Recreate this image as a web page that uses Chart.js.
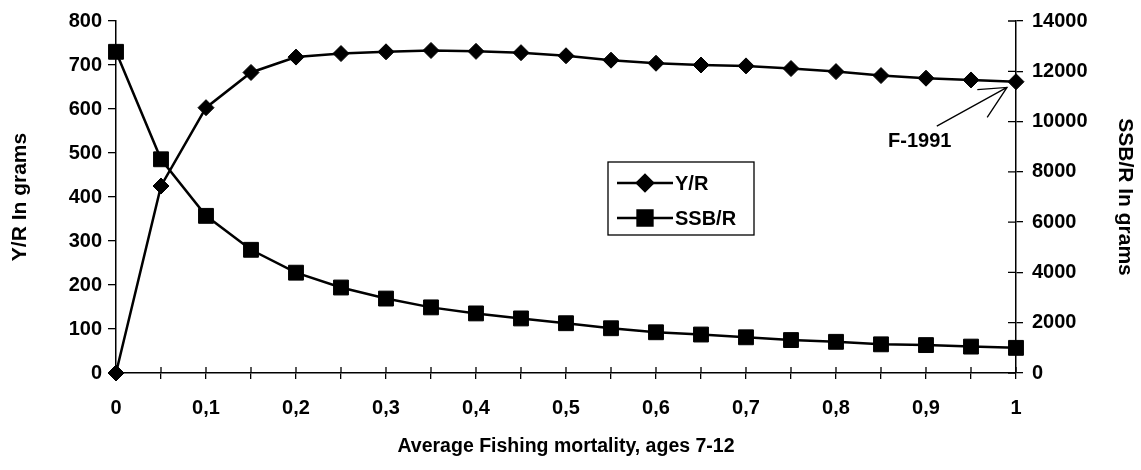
<!DOCTYPE html>
<html>
<head>
<meta charset="utf-8">
<script src="https://cdn.jsdelivr.net/npm/chart.js@4/dist/chart.umd.min.js"></script>
<style>
  html, body { margin: 0; padding: 0; background: #fff; }
  #wrap { width: 1141px; height: 470px; }
</style>
</head>
<body>
<div id="wrap"><canvas id="mainChart" width="1141" height="470"></canvas></div>
<script>
// fishing mortality F (ages 7-12)
const fValues = [0, 0.05, 0.1, 0.15, 0.2, 0.25, 0.3, 0.35, 0.4, 0.45, 0.5,
                 0.55, 0.6, 0.65, 0.7, 0.75, 0.8, 0.85, 0.9, 0.95, 1]
// yield per recruit, grams (left axis)
const yieldPerRecruit = [0, 425, 603, 683, 718, 726, 730, 733, 731, 728, 721,
                         711, 704, 700, 698, 692, 685, 676, 670, 666, 662]
// spawning stock biomass per recruit, grams (right axis)
const ssbPerRecruit = [12775, 8500, 6250, 4900, 3990, 3400, 2960, 2610, 2370, 2170, 1980,
                       1780, 1620, 1530, 1420, 1310, 1240, 1140, 1110, 1050, 1000]
const seriesNames = ["Y/R", "SSB/R"]
// annotation for F-1991, in data units (x, left axis)
const noteText = "F-1991"
const noteAt = [0.893, 527]
const noteArrow = [[0.912, 561], [0.99, 649]]
const noteHead = [[0.968, 581], [0.957, 644]]

const FONT = "'Liberation Sans', Arial, sans-serif"

const pts = (ys) => fValues.map((f, i) => ({ x: f, y: ys[i] }))

// ticks that cross the axis line (x axis and right axis)
const crossTicks = {
    id: 'crossTicks',
    afterDraw(chart) {
        const ctx = chart.ctx
        const xs = chart.scales.x
        const yr = chart.scales.y2
        ctx.save()
        ctx.strokeStyle = '#000'
        ctx.lineWidth = 1.3
        ctx.beginPath()
        xs.ticks.forEach(t => {
            const px = xs.getPixelForValue(t.value)
            ctx.moveTo(px, xs.top)
            ctx.lineTo(px, xs.top - 6)
        })
        yr.ticks.forEach(t => {
            const py = yr.getPixelForValue(t.value)
            ctx.moveTo(yr.left, py)
            ctx.lineTo(yr.left - 8, py)
        })
        ctx.stroke()
        ctx.restore()
    }
}

// legend box inside the plot and the F-1991 note
const legendAndNote = {
    id: 'legendAndNote',
    afterDraw(chart) {
        const ctx = chart.ctx
        const xs = chart.scales.x
        const yl = chart.scales.y
        ctx.save()
        // legend
        ctx.fillStyle = '#fff'
        ctx.fillRect(608, 162, 146, 73)
        ctx.strokeStyle = '#000'
        ctx.lineWidth = 1.3
        ctx.strokeRect(608, 162, 146, 73)
        const rows = [183, 218]
        chart.data.datasets.forEach((ds, i) => {
            const y = rows[i]
            ctx.strokeStyle = '#000'
            ctx.lineWidth = 2.5
            ctx.beginPath()
            ctx.moveTo(617, y)
            ctx.lineTo(673, y)
            ctx.stroke()
            ctx.fillStyle = '#000'
            Chart.helpers.drawPoint(ctx, {
                pointStyle: ds.pointStyle, radius: ds.pointRadius, rotation: 0, borderWidth: 1
            }, 645, y)
            ctx.fill()
            ctx.font = 'bold 20px ' + FONT
            ctx.textBaseline = 'middle'
            ctx.textAlign = 'left'
            ctx.fillText(ds.label, 675, y + 1)
        })
        // note
        const px = (p) => [xs.getPixelForValue(p[0]), yl.getPixelForValue(p[1])]
        const a = px(noteArrow[0]), b = px(noteArrow[1])
        const h1 = px(noteHead[0]), h2 = px(noteHead[1])
        ctx.strokeStyle = '#000'
        ctx.lineWidth = 1.3
        ctx.beginPath()
        ctx.moveTo(a[0], a[1]); ctx.lineTo(b[0], b[1])
        ctx.moveTo(h1[0], h1[1]); ctx.lineTo(b[0], b[1]); ctx.lineTo(h2[0], h2[1])
        ctx.stroke()
        const n = px(noteAt)
        ctx.fillStyle = '#000'
        ctx.font = 'bold 20px ' + FONT
        ctx.textAlign = 'center'
        ctx.textBaseline = 'middle'
        ctx.fillText(noteText, n[0], n[1])
        ctx.restore()
    }
}

const tickFont = { family: FONT, size: 20, weight: 'bold' }
const xTitleFont = { family: FONT, size: 19.5, weight: 'bold' }
const yTitleFont = { family: FONT, size: 21, weight: 'bold' }

new Chart(document.getElementById('mainChart').getContext('2d'), {
    type: 'line',
    data: {
        datasets: [
            {
                label: seriesNames[0],
                data: pts(yieldPerRecruit),
                yAxisID: 'y',
                borderColor: '#000',
                backgroundColor: '#000',
                borderWidth: 2.5,
                pointStyle: 'rectRot',
                pointRadius: 8,
                pointBorderWidth: 1,
                tension: 0
            },
            {
                label: seriesNames[1],
                data: pts(ssbPerRecruit),
                yAxisID: 'y2',
                borderColor: '#000',
                backgroundColor: '#000',
                borderWidth: 2.5,
                pointStyle: 'rect',
                pointRadius: 10.5,
                pointBorderWidth: 1,
                tension: 0
            }
        ]
    },
    options: {
        responsive: false,
        animation: false,
        clip: false,
        layout: { padding: { top: 20, left: 0, right: 0, bottom: 0 } },
        plugins: { legend: { display: false }, tooltip: { enabled: false } },
        scales: {
            x: {
                type: 'linear',
                min: 0,
                max: 1,
                ticks: {
                    stepSize: 0.05,
                    autoSkip: false,
                    maxRotation: 0,
                    color: '#000',
                    font: tickFont,
                    padding: 17,
                    callback: (v) => {
                        const k = Math.round(v * 100)
                        if (k % 10 !== 0) return ''
                        if (k === 0) return '0'
                        if (k === 100) return '1'
                        return '0,' + (k / 10)
                    }
                },
                grid: { drawOnChartArea: false, drawTicks: true, tickLength: 6, color: '#000', lineWidth: 1.3 },
                border: { display: true, color: '#000', width: 1.5 },
                title: { display: true, text: 'Average Fishing mortality, ages 7-12', color: '#000', font: xTitleFont, padding: { top: 4, bottom: 12 } },
                afterFit: (s) => { s.height = 97 }
            },
            y: {
                position: 'left',
                min: 0,
                max: 800,
                ticks: { stepSize: 100, color: '#000', font: tickFont, padding: 6 },
                grid: { drawOnChartArea: false, drawTicks: true, tickLength: 8, color: '#000', lineWidth: 1.3 },
                border: { display: true, color: '#000', width: 1.5 },
                title: { display: true, text: 'Y/R In grams', color: '#000', font: yTitleFont, padding: { top: 8, bottom: 0 } },
                afterFit: (s) => { s.width = 116 }
            },
            y2: {
                position: 'right',
                min: 0,
                max: 14000,
                ticks: { stepSize: 2000, color: '#000', font: tickFont, padding: 9, callback: (v) => String(v) },
                grid: { drawOnChartArea: false, drawTicks: true, tickLength: 7, color: '#000', lineWidth: 1.3 },
                border: { display: true, color: '#000', width: 1.5 },
                title: { display: true, text: 'SSB/R In grams', color: '#000', font: yTitleFont, padding: { top: 4, bottom: 0 } },
                afterFit: (s) => { s.width = 125 }
            }
        }
    },
    plugins: [crossTicks, legendAndNote]
})
</script>
</body>
</html>
